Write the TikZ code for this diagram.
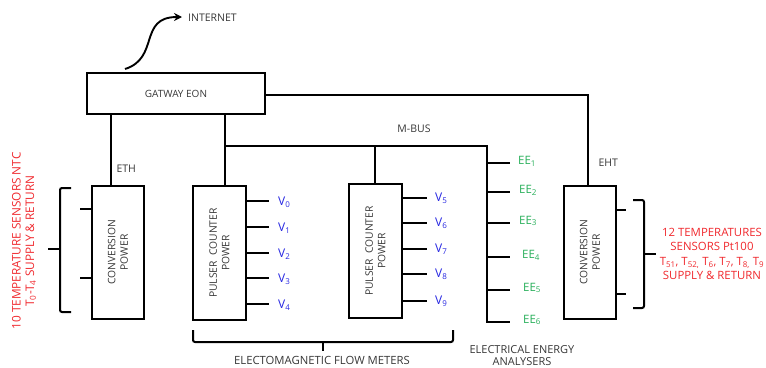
\documentclass[tikz,border=0pt]{standalone}
\usepackage{fontspec}
\setmainfont{Open Sans}
\usetikzlibrary{arrows.meta}
\definecolor{tred}{RGB}{240,40,45}
\definecolor{tblue}{RGB}{40,40,225}
\definecolor{tgreen}{RGB}{40,175,90}
\definecolor{tgray}{RGB}{55,55,55}
\begin{document}
\begin{tikzpicture}[x=1pt,y=-1pt,
  wire/.style={line width=2.1pt,black},
  boxst/.style={draw,line width=2.1pt,inner sep=0pt,text=tgray},
  rot/.style={rotate=90,align=center,font=\fontsize{10.3}{12.5}\selectfont,text=tgray},
  lbl/.style={font=\fontsize{10.5}{12.5}\selectfont,text=tgray},
  vlbl/.style={anchor=west,font=\fontsize{12}{14}\selectfont,text=tblue,inner sep=0pt},
  eelbl/.style={anchor=west,font=\fontsize{11.5}{14}\selectfont,text=tgreen,inner sep=0pt},
  redt/.style={align=center,font=\fontsize{11.4}{14.2}\selectfont,text=tred}]
\useasboundingbox (0,0) rectangle (766,367);
% boxes
\node[boxst,minimum width=178pt,minimum height=41pt,font=\fontsize{10}{12}\selectfont] (gw) at (176,93.5) {GATWAY EON};
\node[boxst,minimum width=52pt,minimum height=133pt] (conv1) at (118,252.5) {};
\node[rot] at (conv1.center) {CONVERSION\\POWER};
\node[boxst,minimum width=53pt,minimum height=134pt] (pc1) at (219.5,253) {};
\node[rot] at (pc1.center) {PULSER\ \ COUNTER\\POWER};
\node[boxst,minimum width=53pt,minimum height=134pt] (pc2) at (375.5,251) {};
\node[rot] at (pc2.center) {PULSER\ \ COUNTER\\POWER};
\node[boxst,minimum width=52pt,minimum height=133pt] (conv2) at (590,252.5) {};
\node[rot] at (conv2.center) {CONVERSION\\POWER};
% internet
\node[lbl,anchor=west,inner sep=0pt] (inet) at (188,18) {INTERNET};
\coordinate (istart) at (125,69);
\coordinate (iend) at (182,17);
\draw[line width=1.9pt,-{Stealth[length=8pt,width=8pt]}] (istart) .. controls (160,58) and (138,17) .. (iend);
% coordinates
\coordinate (ethx) at (111,0);
\coordinate (busx) at (225,0);
\coordinate (bus2) at (375,146);
\coordinate (eetop) at (487,146);
\coordinate (eebot) at (487,323);
\coordinate (ehtc) at (588,95);
% ETH
\draw[wire] (gw.south -| ethx) -- (conv1.north -| ethx);
\node[lbl,anchor=west] at (113,169) {ETH};
% M-bus
\draw[wire] (gw.south -| busx) -- (pc1.north -| busx);
\draw[wire] (busx |- eetop) -- (eetop) -- (eebot);
\draw[wire] (bus2) -- (pc2.north -| bus2);
\node[lbl] at (414,129) {M-BUS};
% EHT
\draw[wire] (gw.east |- ehtc) -- (ehtc) -- (conv2.north -| ehtc);
\node[lbl,anchor=west] at (595,163) {EHT};
% V stubs
\foreach \i/\y in {0/201,1/227,2/253,3/278,4/304}{
  \coordinate (v\i) at (269,\y);
  \draw[wire] (v\i -| pc1.east) -- (v\i);
  \node[vlbl] at (278,\y+1) {V\textsubscript{\i}};
}
\foreach \i/\y in {5/198,6/223,7/249,8/274,9/301}{
  \coordinate (v\i) at (427,\y);
  \draw[wire] (v\i -| pc2.east) -- (v\i);
  \node[vlbl] at (435,\y) {V\textsubscript{\i}};
}
% EE stubs
\foreach \i/\y/\xx in {1/163/518,2/192/519,3/223/519,4/257/522,5/290/523,6/322/523}{
  \coordinate (ee\i) at (510,\y);
  \draw[wire] (ee\i -| eetop) -- (ee\i);
  \node[eelbl] at (\xx,\y-2) {EE\textsubscript{\i}};
}
% left sensors
\coordinate (ls1) at (80,209);
\coordinate (ls2) at (80,278);
\draw[wire] (ls1) -- (ls1 -| conv1.west);
\draw[wire] (ls2) -- (ls2 -| conv1.west);
\draw[line width=2pt,rounded corners=2pt] (71,188) -- (60,188) -- (60,312) -- (71,312);
\draw[line width=2pt] (60,249) -- (48,249);
\node[redt,rotate=90,font=\fontsize{11.8}{13.5}\selectfont] at (24,241) {10 TEMPERATURE SENSORS NTC\\T\textsubscript{0}-T\textsubscript{4} SUPPLY \& RETURN};
% right sensors
\coordinate (rs1) at (626,210);
\coordinate (rs2) at (626,294);
\draw[wire] (rs1 -| conv2.east) -- (rs1);
\draw[wire] (rs2 -| conv2.east) -- (rs2);
\draw[line width=2pt,rounded corners=2pt] (633,200) -- (644,200) -- (644,308) -- (633,308);
\draw[line width=2pt] (644,254) -- (656,254);
\node[redt,inner sep=0pt] at (712,254) {12 TEMPERATURES\\SENSORS Pt100\\T\textsubscript{51}, T\textsubscript{52,} T\textsubscript{6}, T\textsubscript{7}, T\textsubscript{8,} T\textsubscript{9}\\SUPPLY \& RETURN};
% bottom brace
\draw[line width=2pt,rounded corners=2pt] (193,330) -- (193,342) -- (453,342) -- (453,330);
\draw[line width=2pt] (323,342) -- (323,351);
\node[lbl,font=\fontsize{11.3}{13}\selectfont] at (322,360) {ELECTOMAGNETIC FLOW METERS};
\node[lbl,font=\fontsize{11}{12.3}\selectfont,align=center,anchor=south,inner sep=0pt] at (522,366) {ELECTRICAL ENERGY\\ANALYSERS};
\end{tikzpicture}
\end{document}
